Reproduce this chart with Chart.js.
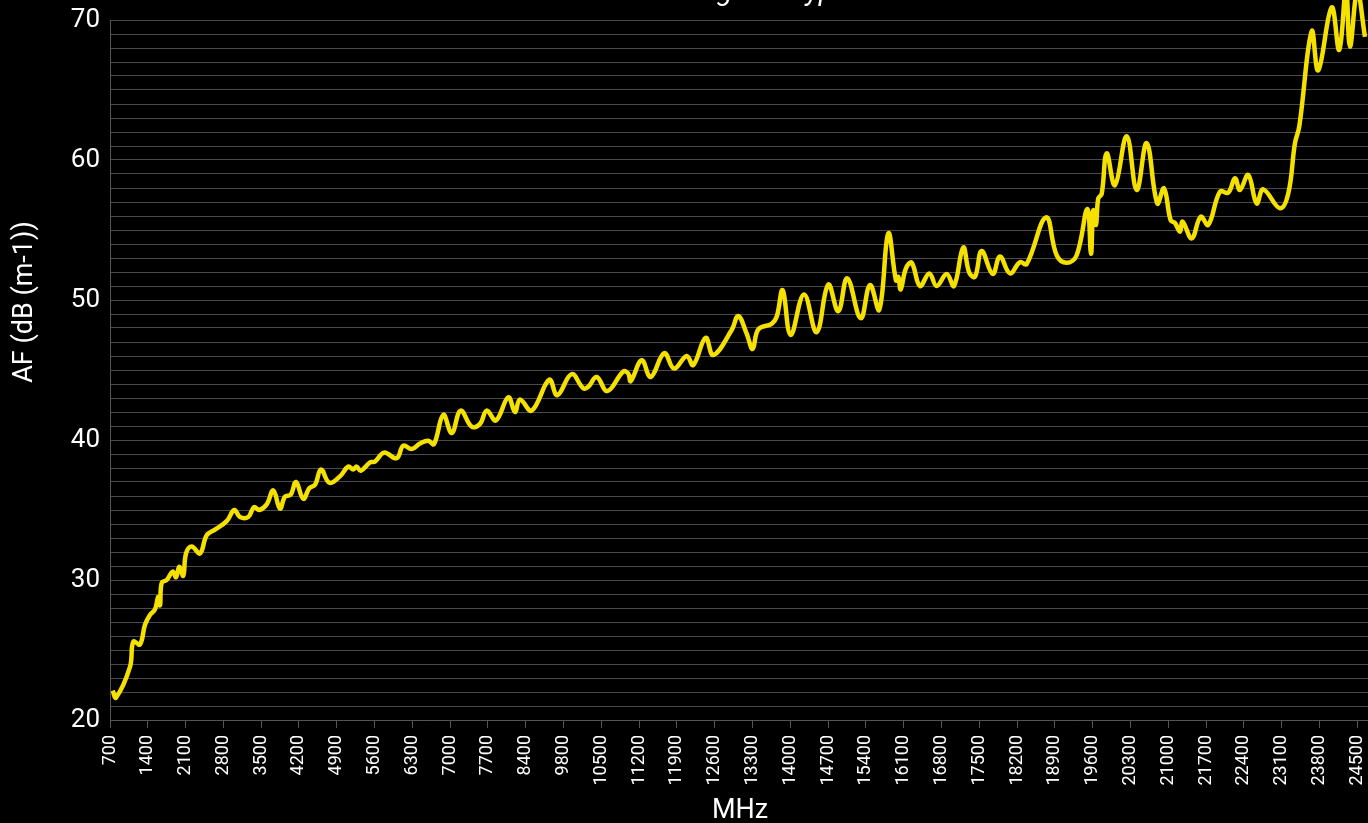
<!DOCTYPE html>
<html lang="en">
<head>
  <meta charset="UTF-8">
  <title>Antenna Factor</title>
  <script src="https://cdn.jsdelivr.net/npm/chart.js"></script>
  <style>
    html, body {
      margin: 0;
      background-color: #000;
      overflow: hidden;
      width: 1368px;
      height: 823px;
    }
    #wrap {
      position: absolute;
      left: 0;
      top: -24px;
      width: 1395px;
      height: 855px;
    }
  </style>
</head>
<body>
  <div id="wrap"><canvas id="afChart"></canvas></div>

  <script>
    // frequency (MHz) and antenna factor (dB/m)
    const freqMHz = [
      750, 811, 1070, 1132, 1255, 1348, 1440, 1533, 1594, 1627, 1658, 1750, 1861, 1923, 1983, 2057,
      2108, 2213, 2367, 2491, 2645, 2861, 3002, 3107, 3261, 3367, 3465, 3602, 3724, 3849, 3941, 4047,
      4145, 4280, 4391, 4497, 4608, 4762, 4959, 5113, 5206, 5269, 5343, 5516, 5608, 5775, 6010, 6132,
      6287, 6441, 6595, 6700, 6873, 7029, 7195, 7399, 7553, 7677, 7849, 8077, 8201, 8293, 8621, 9272,
      9568, 9951, 10166, 10259, 10414, 10611, 10907, 10999, 11044, 11248, 11414, 11666, 11846, 12081, 12203, 12432,
      12574, 12915, 13036, 13192, 13303, 13407, 13655, 13748, 13859, 14007, 14253, 14488, 14703, 14889, 15055, 15304,
      15476, 15648, 15815, 15957, 16000, 16044, 16142, 16248, 16402, 16574, 16711, 16896, 17032, 17203, 17315, 17421,
      17544, 17748, 17883, 18068, 18253, 18378, 18736, 18934, 19119, 19304, 19501, 19569, 19611, 19662, 19704, 19767,
      19860, 20013, 20231, 20416, 20601, 20797, 20921, 21045, 21125, 21217, 21267, 21435, 21601, 21741, 21958, 22112,
      22236, 22328, 22482, 22638, 22760, 23069, 23223, 23347, 23427, 23657, 23778, 24027, 24167, 24292, 24366, 24502,
      24644
    ];
    const afDb = [
      22.1, 21.6, 23.8, 25.6, 25.4, 26.8, 27.5, 27.9, 28.8, 28.2, 29.8, 30.0, 30.6, 30.2, 30.95, 30.3,
      31.9, 32.4, 31.9, 33.2, 33.6, 34.2, 35.0, 34.5, 34.5, 35.2, 35.0, 35.4, 36.4, 35.1, 35.95, 36.1,
      37.0, 35.8, 36.55, 36.8, 37.9, 36.95, 37.4, 38.1, 37.9, 38.1, 37.8, 38.4, 38.45, 39.1, 38.7, 39.6,
      39.35, 39.75, 39.95, 39.7, 41.8, 40.5, 42.1, 40.95, 41.15, 42.1, 41.4, 43.05, 42.0, 42.9, 42.1, 44.3,
      43.2, 44.7, 43.7, 43.8, 44.5, 43.5, 44.9, 44.75, 44.2, 45.7, 44.5, 46.2, 45.1, 46.0, 45.35, 47.3,
      46.07, 47.86, 48.86, 47.6, 46.5, 47.9, 48.3, 48.8, 50.7, 47.5, 50.4, 47.7, 51.1, 49.2, 51.55, 48.7,
      51.07, 49.3, 54.76, 51.4, 51.66, 50.76, 52.26, 52.66, 51.0, 51.9, 51.0, 51.86, 51.0, 53.76, 51.95, 51.66,
      53.5, 51.86, 53.1, 51.9, 52.7, 52.57, 55.9, 53.2, 52.66, 53.2, 56.5, 53.3, 56.4, 55.36, 57.26, 57.57,
      60.48, 58.2, 61.7, 57.86, 61.2, 56.9, 57.98, 55.7, 55.5, 54.88, 55.6, 54.4, 55.95, 55.36, 57.74, 57.67,
      58.7, 57.86, 58.93, 56.9, 57.9, 56.55, 57.6, 61.2, 62.4, 69.2, 66.4, 70.9, 67.86, 72.2, 68.1, 72.0,
      68.8
    ];

    // category-style axis: labels are evenly spaced, note 9100 is not among them
    const xTickLabels = [
      700, 1400, 2100, 2800, 3500, 4200, 4900, 5600, 6300, 7000, 7700, 8400, 9800, 10500, 11200, 11900,
      12600, 13300, 14000, 14700, 15400, 16100, 16800, 17500, 18200, 18900, 19600, 20300, 21000, 21700,
      22400, 23100, 23800, 24500
    ];
    const yLabels = [20, 30, 40, 50, 60, 70];

    const chartTitle = 'Antenna Factor Diagram HyperLOG';
    const xTitle = 'MHz';
    const yTitle = 'AF (dB (m-1))';

    // frequency -> position along the evenly spaced label axis
    function axisPos(f) {
      const last = xTickLabels.length - 1;
      if (f >= xTickLabels[last]) return last + (f - xTickLabels[last]) / 700;
      for (let i = 0; i < last; i++) {
        if (f <= xTickLabels[i + 1]) {
          return i + (f - xTickLabels[i]) / (xTickLabels[i + 1] - xTickLabels[i]);
        }
      }
      return last;
    }

    // axis titles are a bit off-centre in the original, so draw them by hand
    const axisTitlePlugin = {
      id: 'axisTitles',
      afterDraw(chart) {
        const ctx = chart.ctx;
        ctx.save();
        ctx.fillStyle = '#fff';
        ctx.font = '27px Roboto';
        ctx.textAlign = 'center';
        ctx.textBaseline = 'middle';
        ctx.fillText(xTitle, 740, 835);
        ctx.translate(25, 326);
        ctx.rotate(-Math.PI / 2);
        ctx.fillText(yTitle, 0, 0);
        ctx.restore();
      }
    };

    const afChart = new Chart(document.getElementById('afChart'), {
      type: 'line',
      data: {
        datasets: [{
          label: 'AF',
          data: freqMHz.map((f, i) => ({ x: axisPos(f), y: afDb[i] })),
          borderColor: '#f5e100',
          borderWidth: 4.5,
          pointRadius: 0,
          tension: 0.4,
          fill: false,
          clip: false
        }]
      },
      options: {
        responsive: true,
        maintainAspectRatio: false,
        animation: false,
        layout: {
          padding: { left: 0, right: 0, top: 0, bottom: 0 }
        },
        plugins: {
          legend: { display: false },
          tooltip: { enabled: false },
          title: {
            display: true,
            text: chartTitle,
            color: '#fff',
            font: { family: 'Roboto', size: 28, style: 'italic', weight: 'normal' },
            padding: { top: 0, bottom: 10.4 }
          }
        },
        scales: {
          x: {
            type: 'linear',
            min: 0,
            max: xTickLabels.length,
            afterBuildTicks: (s) => { s.ticks = xTickLabels.map((v, i) => ({ value: i })); },
            afterFit: (s) => { s.height = 111; },
            ticks: {
              autoSkip: false,
              minRotation: 90,
              maxRotation: 90,
              padding: 7,
              color: '#fff',
              font: { family: 'Roboto', size: 18 },
              callback: (v) => String(xTickLabels[v])
            },
            grid: {
              drawOnChartArea: false,
              drawTicks: true,
              tickLength: 8,
              color: '#555'
            },
            border: { color: '#555' }
          },
          y: {
            min: 20,
            max: 70,
            afterFit: (s) => { s.width = 110; },
            ticks: {
              stepSize: 1,
              autoSkip: false,
              padding: 10,
              color: '#fff',
              font: { family: 'Roboto', size: 26 },
              callback: (v) => yLabels.includes(v) ? String(v) : ''
            },
            grid: {
              color: '#4a4a4a',
              drawTicks: false
            },
            border: { color: '#555' }
          }
        }
      },
      plugins: [axisTitlePlugin]
    });
  </script>
</body>
</html>
